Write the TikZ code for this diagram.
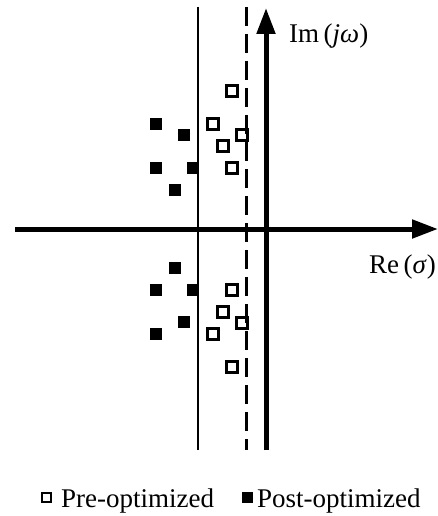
\documentclass[tikz,border=0pt]{standalone}
\usepackage{fontspec}
\setmainfont{Liberation Serif}
\usetikzlibrary{arrows.meta,positioning}
\tikzset{
preopt/.style={
  draw,line width=2.5pt,minimum size=11pt,inner sep=0pt},
postopt/.style={
  fill=black,minimum size=12pt,inner sep=0pt},
axis/.style={line width=5pt,-{Triangle[length=26pt,width=18pt]}},
lbl/.style={font=\fontsize{27}{29}\selectfont,inner sep=0pt}}

\begin{document}
\begin{tikzpicture}[x=1pt,y=-1pt]
\useasboundingbox (0,0) rectangle (438,516);
% axes
\coordinate (xl) at (15,229);
\coordinate (xr) at (438,229);
\coordinate (yb) at (266,450);
\coordinate (yt) at (266,8);
\draw[axis] (xl) -- (xr);
\draw[axis] (yb) -- (yt);
% limits
\coordinate (st) at (198,7);
\coordinate (sb) at (198,450);
\coordinate (dt) at (246,7);
\coordinate (db) at (246,450);
\draw[line width=2pt] (st) -- (sb);
\draw[line width=3pt,dash pattern=on 19pt off 8pt] (dt) -- (db);
\node[lbl,anchor=west] (im) at (289,36) {Im\,(\textit{jω})};
\node[lbl,anchor=west] (re) at (369,267) {Re\,(\textit{σ})};
% pre-optimized poles
\node[preopt] (pre1) at (232,91) {};
\node[preopt] (pre2) at (213,124) {};
\node[preopt] (pre3) at (242,135) {};
\node[preopt] (pre4) at (223,146) {};
\node[preopt] (pre5) at (232,168) {};
\node[preopt] (pre6) at (232,290) {};
\node[preopt] (pre7) at (223,312) {};
\node[preopt] (pre8) at (242,323) {};
\node[preopt] (pre9) at (213,334) {};
\node[preopt] (pre10) at (232,367) {};
% post-optimized poles
\node[postopt] (post1) at (156,124) {};
\node[postopt] (post2) at (184,135) {};
\node[postopt] (post3) at (156,168) {};
\node[postopt] (post4) at (193,168) {};
\node[postopt] (post5) at (175,190) {};
\node[postopt] (post6) at (175,268) {};
\node[postopt] (post7) at (156,290) {};
\node[postopt] (post8) at (193,290) {};
\node[postopt] (post9) at (184,322) {};
\node[postopt] (post10) at (156,334) {};
% legend
\node[preopt,minimum size=9pt,line width=2pt] (lpre) at (46,497.5) {};
\node[lbl,anchor=base west] (tpre) at (61,507) {Pre-optimized};
\node[postopt,minimum size=11pt] (lpost) at (247.5,497.5) {};
\node[lbl,anchor=base west] (tpost) at (257,507) {Post-optimized};
\end{tikzpicture}
\end{document}
